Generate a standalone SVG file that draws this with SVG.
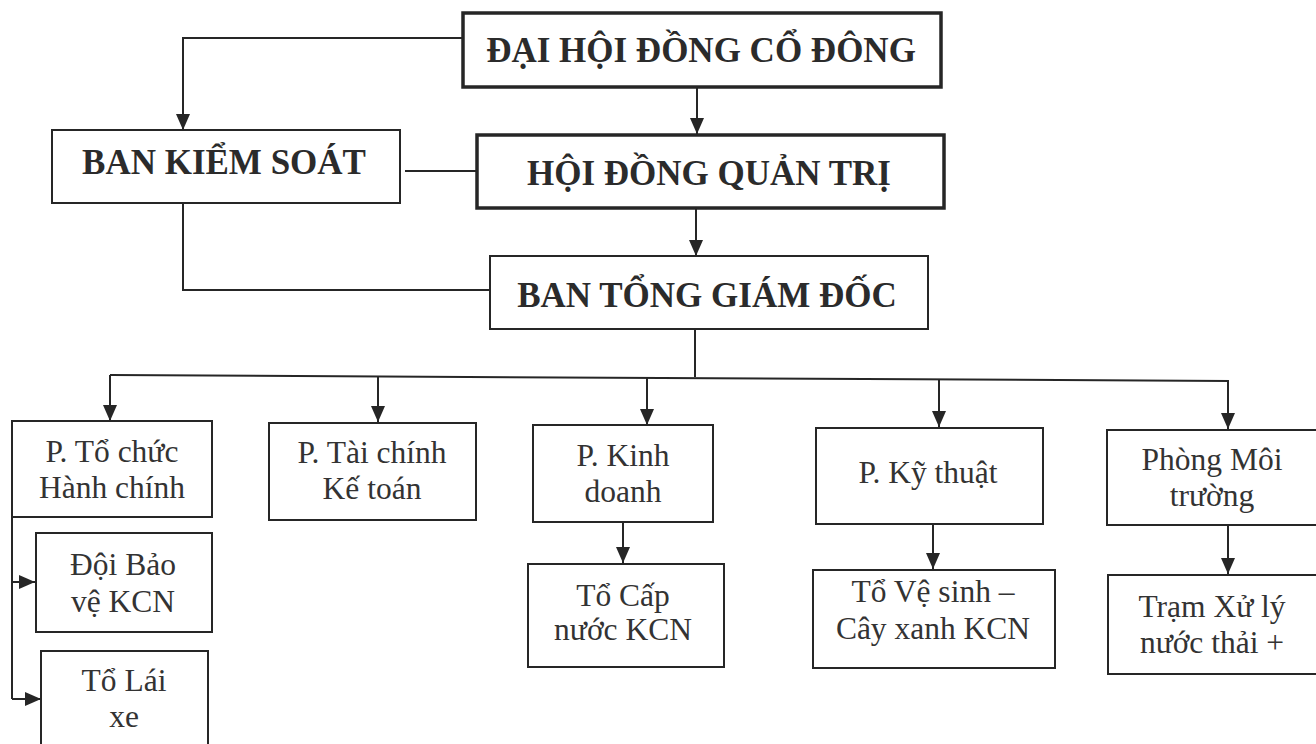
<svg xmlns="http://www.w3.org/2000/svg" width="1316" height="744" viewBox="0 0 1316 744">
<style>
.bg{fill:#ffffff}
.box{fill:#ffffff;stroke:#262626;stroke-width:2}
.thick{fill:#ffffff;stroke:#262626;stroke-width:3.5}
.hd{font-family:"Liberation Serif","Times New Roman",serif;font-weight:bold;font-size:35px;fill:#2b2b2b;text-anchor:middle}
.tx{font-family:"Liberation Serif","Times New Roman",serif;font-size:31.5px;fill:#333333;text-anchor:middle}
.ln{fill:none;stroke:#262626;stroke-width:2}
</style>
<defs>
<marker id="arr" markerUnits="userSpaceOnUse" markerWidth="16" markerHeight="14" refX="16" refY="7" orient="auto">
<path d="M0,0 L16,7 L0,14 z" fill="#262626"/>
</marker>
</defs>
<rect class="bg" x="0" y="0" width="1316" height="744"/>

<g id="connectors">
<path class="ln" d="M463,38 H183 V130" marker-end="url(#arr)"/>
<path class="ln" d="M697,87 V134" marker-end="url(#arr)"/>
<path class="ln" d="M405,171 H477"/>
<path class="ln" d="M696,208 V256" marker-end="url(#arr)"/>
<path class="ln" d="M183,203 V290 H490"/>
<path class="ln" d="M695,329 V377"/>
<path class="ln" d="M110,375 L1229,381"/>
<path class="ln" d="M110,375 V421" marker-end="url(#arr)"/>
<path class="ln" d="M378,376 V422" marker-end="url(#arr)"/>
<path class="ln" d="M647,377 V425" marker-end="url(#arr)"/>
<path class="ln" d="M939,379 V427" marker-end="url(#arr)"/>
<path class="ln" d="M1228,381 V429" marker-end="url(#arr)"/>
<path class="ln" d="M12,517 V699"/>
<path class="ln" d="M12,582 H35" marker-end="url(#arr)"/>
<path class="ln" d="M12,699 H41" marker-end="url(#arr)"/>
<path class="ln" d="M623,522 V563" marker-end="url(#arr)"/>
<path class="ln" d="M933,524 V569" marker-end="url(#arr)"/>
<path class="ln" d="M1228,525 V574" marker-end="url(#arr)"/>
</g>

<g id="dhdcd">
<rect class="thick" x="463" y="13" width="478" height="74"/>
<text class="hd" x="701" y="62">ĐẠI HỘI ĐỒNG CỔ ĐÔNG</text>
</g>
<g id="hdqt">
<rect class="thick" x="477" y="135" width="467" height="73"/>
<text class="hd" x="709" y="185">HỘI ĐỒNG QUẢN TRỊ</text>
</g>
<g id="bks">
<rect class="box" x="52" y="130" width="348" height="73"/>
<text class="hd" x="224" y="174">BAN KIỂM SOÁT</text>
</g>
<g id="btgd">
<rect class="box" x="490" y="256" width="438" height="73"/>
<text class="hd" x="707" y="307">BAN TỔNG GIÁM ĐỐC</text>
</g>

<g id="p-tochuc">
<rect class="box" x="12" y="421" width="200" height="96"/>
<text class="tx" x="112" y="462">P. Tổ chức</text>
<text class="tx" x="112" y="498">Hành chính</text>
</g>
<g id="p-taichinh">
<rect class="box" x="269" y="423" width="207" height="97"/>
<text class="tx" x="372" y="463">P. Tài chính</text>
<text class="tx" x="372" y="499">Kế toán</text>
</g>
<g id="p-kinhdoanh">
<rect class="box" x="533" y="425" width="180" height="97"/>
<text class="tx" x="623" y="466">P. Kinh</text>
<text class="tx" x="623" y="502">doanh</text>
</g>
<g id="p-kythuat">
<rect class="box" x="816" y="428" width="227" height="96"/>
<text class="tx" x="928" y="483">P. Kỹ thuật</text>
</g>
<g id="p-moitruong">
<rect class="box" x="1107" y="430" width="215" height="95"/>
<text class="tx" x="1212" y="470">Phòng Môi</text>
<text class="tx" x="1212" y="506">trường</text>
</g>

<g id="doi-baove">
<rect class="box" x="36" y="533" width="176" height="99"/>
<text class="tx" x="123" y="575">Đội Bảo</text>
<text class="tx" x="123" y="612">vệ KCN</text>
</g>
<g id="to-laixe">
<rect class="box" x="41" y="651" width="167" height="110"/>
<text class="tx" x="124" y="691">Tổ Lái</text>
<text class="tx" x="124" y="727">xe</text>
</g>
<g id="to-capnuoc">
<rect class="box" x="528" y="564" width="196" height="103"/>
<text class="tx" x="623" y="606">Tổ Cấp</text>
<text class="tx" x="623" y="640">nước KCN</text>
</g>
<g id="to-vesinh">
<rect class="box" x="813" y="570" width="242" height="98"/>
<text class="tx" x="933" y="602">Tổ Vệ sinh –</text>
<text class="tx" x="933" y="639">Cây xanh KCN</text>
</g>
<g id="tram-xuly">
<rect class="box" x="1108" y="575" width="214" height="99"/>
<text class="tx" x="1212" y="617">Trạm Xử lý</text>
<text class="tx" x="1212" y="653">nước thải +</text>
</g>
</svg>
